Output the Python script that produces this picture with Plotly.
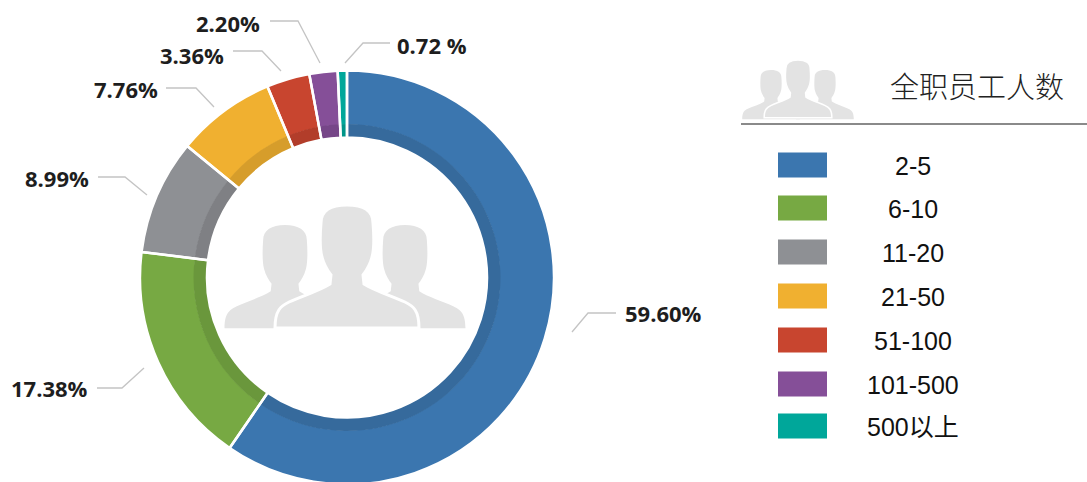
import plotly.graph_objects as go

categories = ["2-5", "6-10", "11-20", "21-50", "51-100", "101-500", "500以上"]
shares = [59.60, 17.38, 8.99, 7.76, 3.36, 2.20, 0.72]
share_labels = ["59.60%", "17.38%", "8.99%", "7.76%", "3.36%", "2.20%", "0.72 %"]
colors = ["#3B76AF", "#77A943", "#8E9094", "#F0B030", "#C8452F", "#854F98", "#00A79A"]
inner_colors = ["#366A9C", "#6A973C", "#7F8084", "#D69D2B", "#B23D2A", "#764688", "#009589"]
title = "全职员工人数"

W, H = 1087, 490
CX, CY, R, R_MID, R_IN = 347, 277.5, 207, 153, 140
label_pos = [(663, 313), (49, 388), (57, 178), (126, 89), (192, 55), (228, 23), (432, 45)]
leaders = [
    [(572, 332), (588, 313), (616, 313)],
    [(144, 368), (122, 388), (97, 388)],
    [(147, 195), (125, 177), (98, 177)],
    [(214, 107), (196, 88), (166, 88)],
    [(281, 71), (262, 51), (233, 51)],
    [(320, 63), (298, 21), (270, 21)],
    [(345, 63), (363, 43), (390, 43)],
]
legend_y = [165, 208, 252, 296, 340, 384, 426]


def px(x):
    return x / W


def py(y):
    return 1 - y / H


def dom(r):
    return dict(x=[px(CX - r), px(CX + r)], y=[max(py(CY + r), 0), py(CY - r)])


def ring(r, hole, cols, line_w=0):
    return go.Pie(
        values=shares, labels=categories, sort=False, direction="clockwise", rotation=0,
        hole=hole, domain=dom(r), textinfo="none", hoverinfo="label+percent", showlegend=False,
        marker=dict(colors=cols, line=dict(color="white", width=line_w)),
    )


fig = go.Figure([
    ring(R, R_MID / R, colors),
    ring(R_MID + 0.5, R_IN / (R_MID + 0.5), inner_colors),
    ring(R, R_IN / R, ["rgba(0,0,0,0)"] * len(shares), 2.5),
])


def person(cx, top, s, outline=None):
    def p(pt):
        return f"{px(cx + pt[0] * s):.5f},{py(top + pt[1] * s):.5f}"
    d = "M" + p((0, 0))
    for seg in [
        ("C", (-16, 0), (-26, 6), (-26, 18)),
        ("C", (-27, 30), (-27, 45), (-25, 52)),
        ("C", (-23, 60), (-19, 66), (-16, 70)),
        ("L", (-17, 79)),
        ("C", (-28, 86), (-45, 91), (-58, 97)),
        ("C", (-66, 101), (-72, 105), (-72, 123)),
        ("L", (72, 123)),
        ("C", (72, 105), (66, 101), (58, 97)),
        ("C", (45, 91), (28, 86), (17, 79)),
        ("L", (16, 70)),
        ("C", (19, 66), (23, 60), (25, 52)),
        ("C", (27, 45), (27, 30), (26, 18)),
        ("C", (26, 6), (16, 0), (0, 0)),
    ]:
        d += " " + seg[0] + " ".join(p(q) for q in seg[1:])
    d += " Z"
    return dict(type="path", xref="paper", yref="paper", path=d, fillcolor="#E3E3E3",
                line=dict(color="white" if outline else "rgba(0,0,0,0)", width=outline or 0))


shapes = [
    person(285, 225, 0.84), person(405, 225, 0.84), person(347, 205, 1.0, 3),
    person(771, 70, 0.40), person(825, 70, 0.40), person(798, 60, 0.47, 1.5),
    dict(type="line", xref="paper", yref="paper", x0=px(741), x1=1, y0=py(124), y1=py(124),
         line=dict(color="#8A8A8A", width=2)),
]
for pts in leaders:
    d = "M" + " L".join(f"{px(x):.5f},{py(y):.5f}" for x, y in pts)
    shapes.append(dict(type="path", xref="paper", yref="paper", path=d,
                       line=dict(color="#C4C4C4", width=1.3)))
for y, c in zip(legend_y, colors):
    shapes.append(dict(type="rect", xref="paper", yref="paper", x0=px(778), x1=px(827),
                       y0=py(y + 12.5), y1=py(y - 12.5), fillcolor=c, line=dict(width=0)))

annotations = []
for (x, y), t in zip(label_pos, share_labels):
    annotations.append(dict(x=px(x), y=py(y), xref="paper", yref="paper", text=t, showarrow=False,
                            xanchor="center", yanchor="middle",
                            font=dict(family="Open Sans", size=22, color="#1E1E1E", weight=700)))
for y, c in zip(legend_y, categories):
    annotations.append(dict(x=px(913), y=py(y + 1), xref="paper", yref="paper", text=c, showarrow=False,
                            xanchor="center", yanchor="middle",
                            font=dict(family="Liberation Sans, Noto Sans CJK SC", size=25, color="#111111")))
annotations.append(dict(x=px(977), y=py(85), xref="paper", yref="paper", text=title, showarrow=False,
                        xanchor="center", yanchor="middle",
                        font=dict(family="Noto Sans CJK SC", size=29, color="#222222", weight=300)))

fig.update_layout(width=W, height=H, margin=dict(l=0, r=0, t=0, b=0), paper_bgcolor="white",
                  shapes=shapes, annotations=annotations, showlegend=False)
fig.write_html("out.html", config=dict(displayModeBar=False),
               post_script="document.body.style.margin='0';document.body.style.overflow='hidden';")
